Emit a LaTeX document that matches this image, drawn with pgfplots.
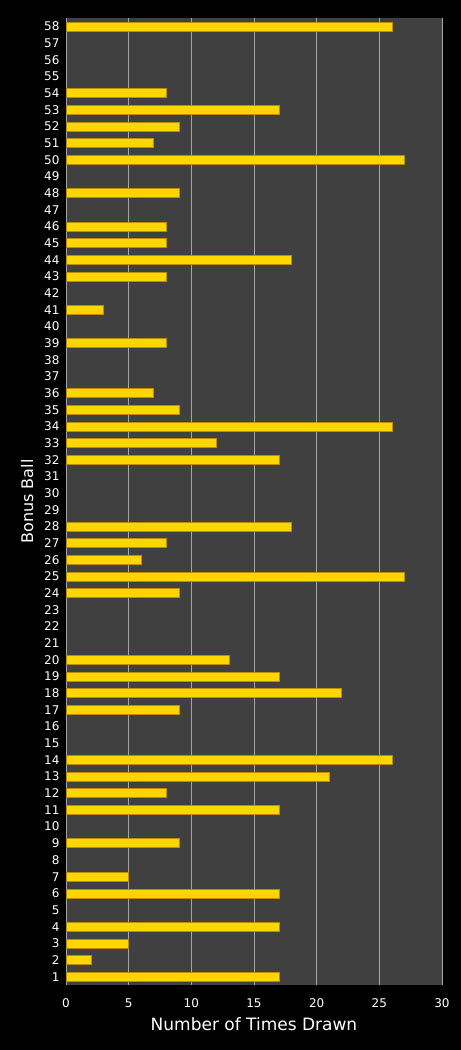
\documentclass[border=0pt]{standalone}
\usepackage{pgfplots}
\pgfplotsset{compat=1.18}
\usepackage{fontspec}
\setmainfont{DejaVu Sans}
\definecolor{plotbg}{RGB}{64,64,64}
\definecolor{gridc}{RGB}{165,165,165}
\definecolor{barfill}{RGB}{252,214,0}
\definecolor{baredge}{RGB}{190,140,0}
\pgfplotsset{mybar/.style={xbar, bar width=9bp, bar shift=0pt, forget plot,
  draw=baredge, line width=0.6bp, fill=barfill}}
\newcommand\B[2]{\addplot[mybar] coordinates {(#1,#2)};}
\begin{document}
\begin{tikzpicture}
\fill[black] (0,0) rectangle (461bp,1050bp);
\begin{axis}[
  at={(66bp,65bp)}, anchor=south west,
  scale only axis, width=376bp, height=967bp,
  xmin=0, xmax=30, ymin=0.5, ymax=58.5,
  xtick={0,5,...,30},
  ytick={1,...,58},
  axis background/.style={fill=plotbg},
  axis line style={draw=none},
  major tick length=0pt,
  xmajorgrids, grid style={gridc, line width=0.8bp},
  tick label style={white, font=\fontsize{12bp}{14bp}\selectfont},
  xticklabel style={yshift=-10bp},
  yticklabel style={xshift=-3bp},
  xlabel={Number of Times Drawn},
  ylabel={Bonus Ball},
  label style={white},
  xlabel style={font=\fontsize{17bp}{19bp}\selectfont, yshift=-3bp},
  ylabel style={font=\fontsize{16bp}{18bp}\selectfont, yshift=4bp},
  /pgf/number format/assume math mode=true,
  clip=false,
]
\B{17}{1} \B{2}{2} \B{5}{3} \B{17}{4} \B{17}{6} \B{5}{7} \B{9}{9} \B{17}{11}
\B{8}{12} \B{21}{13} \B{26}{14} \B{9}{17} \B{22}{18} \B{17}{19} \B{13}{20}
\B{9}{24} \B{27}{25} \B{6}{26} \B{8}{27} \B{18}{28} \B{17}{32} \B{12}{33}
\B{26}{34} \B{9}{35} \B{7}{36} \B{8}{39} \B{3}{41} \B{8}{43} \B{18}{44}
\B{8}{45} \B{8}{46} \B{9}{48} \B{27}{50} \B{7}{51} \B{9}{52} \B{17}{53}
\B{8}{54} \B{26}{58}
\end{axis}
\end{tikzpicture}
\end{document}
